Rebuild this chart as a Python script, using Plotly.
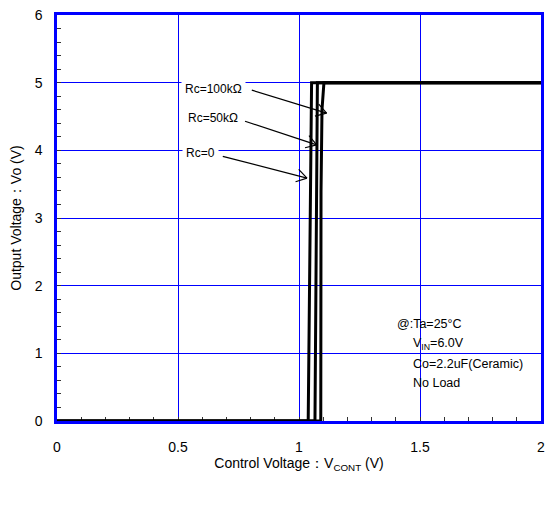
import math
import plotly.graph_objects as go

# ---- data ----
rc0_x = [0, 1.038, 1.052, 2.0]
rc0_y = [0, 0, 5.0, 5.0]
rc50_x = [0, 1.066, 1.076, 2.0]
rc50_y = [0, 0, 5.0, 5.0]
rc100_x = [0, 1.090, 1.091, 1.095, 1.103, 2.0]
rc100_y = [0, 0, 3.4, 4.6, 5.0, 5.0]

labels = ["Rc=100kΩ", "Rc=50kΩ", "Rc=0"]
label_pos = [(0.783, 4.905), (0.765, 4.48), (0.670, 3.96)]
arrow_tail = [(0.805, 4.89), (0.777, 4.43), (0.685, 3.91)]
arrow_tip = [(1.114, 4.55), (1.073, 4.08), (1.033, 3.59)]

x_ticks = [0, 0.5, 1, 1.5, 2]
x_ticktext = ["0", "0.5", "1", "1.5", "2"]
y_ticks = [0, 1, 2, 3, 4, 5, 6]

note_lines = ["@:Ta=25°C", "V<sub>IN</sub>=6.0V", "Co=2.2uF(Ceramic)", "No Load"]
note_pos = [(1.397, 1.433), (1.462, 1.138), (1.462, 0.842), (1.462, 0.562)]

# ---- layout geometry ----
W, H = 545, 505
ML, MR, MT, MB = 57, 4, 15, 84
XR = (0, 2)
YR = (0, 6)
sx = (W - ML - MR) / (XR[1] - XR[0])
sy = (H - MT - MB) / (YR[1] - YR[0])

FONT = "Liberation Sans, Arial, Helvetica, sans-serif"
BLUE = "#0000ff"

fig = go.Figure()
for xs, ys in [(rc0_x, rc0_y), (rc50_x, rc50_y), (rc100_x, rc100_y)]:
    fig.add_trace(go.Scatter(x=xs, y=ys, mode="lines",
                             line=dict(color="black", width=3),
                             showlegend=False, hoverinfo="skip"))

shapes = []
# white background box for the note
shapes.append(dict(type="rect", xref="x", yref="y", x0=1.376, x1=1.963, y0=0.384, y1=1.61,
                   fillcolor="white", line=dict(width=0), layer="below"))

# arrows with open V heads
for (tx, ty), (hx, hy) in zip(arrow_tail, arrow_tip):
    shapes.append(dict(type="line", xref="x", yref="y", x0=tx, y0=ty, x1=hx, y1=hy,
                       line=dict(color="black", width=1.2)))
    dxp = (tx - hx) * sx
    dyp = -(ty - hy) * sy
    ang = math.atan2(dyp, dxp)
    for s in (1, -1):
        a = ang + s * math.radians(32)
        ex = hx + 12 * math.cos(a) / sx
        ey = hy - 12 * math.sin(a) / sy
        shapes.append(dict(type="line", xref="x", yref="y", x0=hx, y0=hy, x1=ex, y1=ey,
                           line=dict(color="black", width=1.2)))

annotations = []
for t, (x, y) in zip(labels, label_pos):
    annotations.append(dict(x=x, y=y, xref="x", yref="y", text=t, showarrow=False,
                            xanchor="right", yanchor="middle", bgcolor="white",
                            borderpad=3, font=dict(family=FONT, size=12, color="black")))
for t, (x, y) in zip(note_lines, note_pos):
    annotations.append(dict(x=x, y=y, xref="x", yref="y", text=t, showarrow=False,
                            xanchor="left", yanchor="middle",
                            font=dict(family=FONT, size=12.5, color="black")))

axis_common = dict(
    showline=True, linecolor=BLUE, linewidth=2.5, mirror=True,
    showgrid=True, gridcolor=BLUE, gridwidth=1,
    zeroline=False, ticks="inside", ticklen=4, tickcolor="#333333", tickwidth=1,
    layer="below traces", automargin=False, ticklabeloverflow="allow",
    tickfont=dict(family=FONT, size=14, color="black"),
)

fig.update_layout(
    width=W, height=H,
    margin=dict(l=ML, r=MR, t=MT, b=MB),
    paper_bgcolor="white", plot_bgcolor="white",
    font=dict(family=FONT, color="black"),
    shapes=shapes, annotations=annotations,
    xaxis=dict(range=list(XR), tickvals=x_ticks, ticktext=x_ticktext,
               ticklabelstandoff=11,
               minor=dict(dtick=0.1, ticks="inside", ticklen=4, tickcolor="#333333",
                          tickwidth=1, showgrid=False),
               title=dict(text="Control Voltage：V<sub>CONT</sub> (V)", standoff=5,
                          font=dict(family=FONT, size=14, color="black")),
               **axis_common),
    yaxis=dict(range=list(YR), tickvals=y_ticks,
               ticklabelstandoff=9,
               minor=dict(dtick=0.2, ticks="inside", ticklen=4, tickcolor="#333333",
                          tickwidth=1, showgrid=False),
               title=dict(text="Output Voltage：Vo (V)", standoff=10,
                          font=dict(family=FONT, size=14, color="black")),
               **axis_common),
)

fig.write_html("out.html", config={"displayModeBar": False},
               post_script="document.body.style.margin='0';")
